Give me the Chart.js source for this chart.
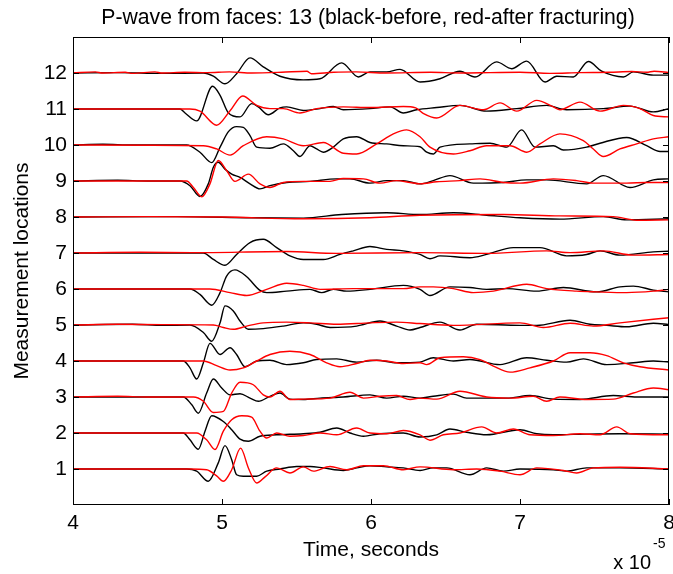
<!DOCTYPE html>
<html>
<head>
<meta charset="utf-8">
<script src="https://cdn.jsdelivr.net/npm/chart.js@4.4.1/dist/chart.umd.min.js"></script>
<style>
  html, body { margin: 0; padding: 0; background: #fff; }
</style>
</head>
<body>
<canvas id="waveChart" width="673" height="574"></canvas>
<script>
// time in units of 1e-5 s, amplitude as offset from the location line
const locations = [1, 2, 3, 4, 5, 6, 7, 8, 9, 10, 11, 12];
const timeTicks = [4, 5, 6, 7, 8];
const chartTitle = 'P-wave from faces: 13 (black-before, red-after fracturing)';

// black - before fracturing
const before1 = [[4,0],[4.763,0],[4.830,-0.06],[4.908,-0.34],[4.975,0.17],[5.020,0.65],[5.065,0.26],[5.098,-0.16],[5.143,-0.20],[5.233,-0.20],[5.300,-0.06],[5.389,0],[5.501,0.07],[5.591,0.07],[5.680,0.03],[5.814,-0.04],[5.904,0.03],[5.993,0.09],[6.105,0.06],[6.217,0.03],[6.329,-0.04],[6.418,0.03],[6.508,0.03],[6.664,-0.16],[6.776,0.03],[6.888,-0.06],[7.0,0],[7.224,-0.02],[7.313,-0.06],[7.447,0.03],[7.671,0.03],[8,0]];
const before2 = [[4,0],[4.740,0],[4.785,-0.19],[4.841,-0.45],[4.886,0.05],[4.931,0.48],[5.009,0.32],[5.065,0.09],[5.121,-0.17],[5.177,-0.23],[5.255,-0.09],[5.367,-0.05],[5.546,-0.02],[5.658,0.02],[5.770,0.14],[5.859,0],[5.949,-0.09],[6.060,-0.02],[6.217,0],[6.329,-0.11],[6.441,-0.05],[6.530,0.11],[6.642,0.02],[6.776,-0.05],[7.0,0.09],[7.112,-0.02],[7.224,-0.05],[7.447,-0.03],[7.671,-0.02],[8,-0.03]];
const before3 = [[4,0],[4.740,0],[4.796,-0.21],[4.841,-0.45],[4.897,0.11],[4.942,0.50],[4.998,0.25],[5.054,0.06],[5.121,0.09],[5.188,-0.03],[5.244,-0.12],[5.322,0.02],[5.389,0.11],[5.456,-0.06],[5.546,-0.07],[5.658,-0.03],[5.814,0],[5.993,0.06],[6.105,-0.03],[6.217,0.02],[6.329,-0.03],[6.418,0.02],[6.553,0.08],[6.642,-0.03],[6.911,-0.03],[7.067,0.04],[7.224,-0.06],[7.403,-0.07],[7.626,0.04],[7.783,0],[8,0]];
const before4 = [[4,0],[4.740,0],[4.785,-0.19],[4.830,-0.50],[4.875,-0.05],[4.919,0.49],[4.987,0.18],[5.054,0.37],[5.098,0.18],[5.154,-0.16],[5.233,0],[5.322,0.02],[5.434,-0.10],[5.546,-0.05],[5.635,0.04],[5.770,0.06],[5.904,-0.03],[6.038,0.02],[6.172,-0.05],[6.329,-0.03],[6.418,0.09],[6.553,0],[6.664,0.04],[6.866,-0.10],[7.045,0.09],[7.179,0.02],[7.313,-0.03],[7.425,0.06],[7.582,-0.10],[7.761,-0.05],[7.895,0],[8,-0.03]];
const before5 = [[4,0],[4.4,0.02],[4.6,-0.01],[4.785,0],[4.875,-0.21],[4.931,-0.45],[4.987,0.06],[5.020,0.53],[5.076,0.39],[5.121,0.11],[5.177,-0.12],[5.277,-0.10],[5.412,-0.03],[5.546,0.06],[5.635,0.02],[5.725,-0.07],[5.904,-0.03],[6.060,0.11],[6.172,-0.03],[6.262,-0.14],[6.329,-0.07],[6.463,0.08],[6.597,-0.14],[6.709,0.02],[7.0,-0.01],[7.112,-0.01],[7.336,0.13],[7.470,0.02],[7.582,-0.01],[7.716,-0.05],[7.895,0.05],[8,0.01]];
const before6 = [[4,0],[4.785,0],[4.852,-0.15],[4.931,-0.45],[4.987,-0.10],[5.031,0.36],[5.087,0.53],[5.166,0.34],[5.255,-0.04],[5.300,-0.10],[5.434,-0.06],[5.591,-0.01],[5.669,-0.10],[5.747,-0.01],[5.837,-0.06],[5.993,-0.01],[6.217,0.10],[6.329,-0.01],[6.396,-0.18],[6.530,0.06],[6.664,0.04],[6.776,-0.01],[6.911,0.01],[7.112,-0.06],[7.291,0.04],[7.515,-0.08],[7.671,0.06],[7.761,0.08],[7.895,-0.03],[8,-0.08]];
const before7 = [[4,0],[4.875,0],[4.942,-0.18],[5.020,-0.34],[5.098,-0.04],[5.188,0.29],[5.277,0.38],[5.367,0.15],[5.456,-0.08],[5.546,-0.18],[5.680,-0.18],[5.792,-0.04],[5.881,0.06],[5.993,0.18],[6.105,0.10],[6.217,0.06],[6.329,-0.04],[6.396,-0.16],[6.463,-0.08],[6.664,-0.13],[6.776,-0.04],[6.955,0.15],[7.134,0.15],[7.313,-0.08],[7.447,-0.04],[7.537,0.06],[7.671,-0.06],[7.895,0.03],[8,0.05]];
const before8 = [[4,0],[4.7,0.01],[5.2,-0.02],[5.546,-0.03],[5.803,0.07],[6.105,0.12],[6.329,0.07],[6.553,0.12],[6.776,0.05],[7.0,-0.02],[7.268,-0.06],[7.559,0.01],[7.716,-0.08],[8,-0.05]];
const before9 = [[4,0],[4.3,0.02],[4.5,0],[4.718,0],[4.785,-0.13],[4.852,-0.43],[4.908,-0.08],[4.942,0.38],[4.975,0.52],[5.020,0.33],[5.065,0.19],[5.121,0.10],[5.188,-0.08],[5.255,-0.22],[5.322,-0.13],[5.434,-0.04],[5.591,-0.01],[5.770,0.06],[5.859,0.06],[5.993,-0.06],[6.105,0.01],[6.217,0.01],[6.329,-0.08],[6.418,0.01],[6.530,0.15],[6.687,-0.06],[6.888,-0.04],[7.045,0.03],[7.179,0.03],[7.447,-0.08],[7.559,0.15],[7.738,-0.18],[7.895,0.03],[8,0.06]];
const before10 = [[4,0],[4.2,0.02],[4.4,0],[4.763,0],[4.852,-0.20],[4.931,-0.49],[4.987,-0.06],[5.043,0.37],[5.098,0.51],[5.143,0.49],[5.188,0.26],[5.233,-0.06],[5.322,-0.09],[5.412,0.03],[5.479,-0.16],[5.523,-0.32],[5.591,-0.02],[5.635,-0.11],[5.680,-0.20],[5.747,-0.06],[5.814,0.17],[5.904,0.23],[5.993,0.07],[6.105,0.03],[6.217,-0.02],[6.329,-0.05],[6.374,-0.20],[6.418,-0.25],[6.463,-0.06],[6.664,0.03],[6.799,0.05],[6.911,-0.06],[7.011,0.42],[7.101,-0.06],[7.224,-0.02],[7.291,-0.14],[7.447,-0.06],[7.537,0.05],[7.716,0.21],[7.850,-0.02],[7.940,-0.18],[8,-0.18]];
const before11 = [[4,0],[4.718,0],[4.752,-0.11],[4.830,-0.33],[4.937,0.63],[4.987,0.38],[5.043,-0.11],[5.121,-0.22],[5.199,0.15],[5.244,0.06],[5.311,-0.16],[5.389,0.03],[5.434,0.06],[5.546,-0.04],[5.658,0.01],[5.747,0.07],[5.814,-0.02],[5.993,0.01],[6.128,0.06],[6.217,-0.11],[6.306,-0.02],[6.441,0.04],[6.597,0.10],[6.776,-0.06],[6.978,0.01],[7.179,0.10],[7.313,-0.02],[7.559,0.01],[7.738,0.08],[7.895,-0.08],[8,0.01]];
const before12 = [[4,0],[4.3,0.01],[4.6,-0.01],[4.875,0],[4.942,-0.09],[5.020,-0.30],[5.098,-0.02],[5.188,0.42],[5.277,0.17],[5.389,-0.09],[5.546,-0.19],[5.658,-0.16],[5.803,0.28],[5.915,-0.11],[5.993,0.03],[6.105,0.03],[6.195,0.10],[6.329,-0.25],[6.463,-0.16],[6.597,0.05],[6.698,-0.11],[6.843,0.31],[6.944,0.12],[7.045,0.33],[7.168,-0.25],[7.246,-0.09],[7.358,-0.11],[7.459,0.32],[7.548,0.05],[7.694,-0.11],[7.761,0.03],[7.895,-0.06],[8,-0.06]];

// red - after fracturing
const after1 = [[4,0],[4.785,0],[4.897,-0.02],[4.964,-0.19],[5.009,-0.34],[5.065,-0.02],[5.125,0.58],[5.177,0.03],[5.233,-0.39],[5.289,-0.22],[5.367,0.03],[5.456,-0.11],[5.546,0.06],[5.613,-0.06],[5.725,0.07],[5.837,-0.02],[5.949,0.09],[6.083,0.09],[6.217,-0.02],[6.329,0.06],[6.553,-0.02],[6.709,0],[6.866,-0.06],[7.0,-0.16],[7.112,0.03],[7.291,-0.04],[7.380,-0.11],[7.492,0.03],[7.671,0.05],[8,0]];
const after2 = [[4,0],[4.830,0],[4.897,-0.19],[4.953,-0.46],[5.009,0.05],[5.065,0.37],[5.132,0.48],[5.199,0.44],[5.255,0.05],[5.300,-0.14],[5.367,0],[5.456,-0.09],[5.546,-0.07],[5.658,0],[5.770,-0.05],[5.904,0.14],[5.993,0],[6.105,-0.02],[6.217,0.07],[6.329,-0.05],[6.396,-0.20],[6.485,-0.05],[6.597,0],[6.743,0.17],[6.843,0],[6.955,0.11],[7.067,-0.05],[7.224,-0.07],[7.403,-0.02],[7.537,-0.05],[7.649,0.17],[7.738,-0.02],[8,-0.05]];
const after3 = [[4,0],[4.3,0.02],[4.5,0],[4.808,0],[4.875,-0.12],[4.942,-0.43],[5.009,-0.40],[5.065,0.11],[5.121,0.41],[5.210,0.34],[5.277,0.06],[5.322,0],[5.389,0.16],[5.456,-0.07],[5.546,-0.06],[5.725,-0.03],[5.859,0.13],[5.949,-0.03],[6.060,0.02],[6.172,0.04],[6.262,-0.07],[6.329,-0.03],[6.441,-0.06],[6.597,0.16],[6.776,0],[6.933,-0.03],[7.089,0.02],[7.179,-0.12],[7.268,0],[7.447,-0.07],[7.626,-0.06],[7.761,0.11],[7.895,0.25],[8,0.20]];
const after4 = [[4,0],[4.875,0],[4.964,-0.13],[5.054,-0.25],[5.143,-0.19],[5.233,0],[5.322,0.18],[5.456,0.27],[5.591,0.18],[5.702,-0.05],[5.792,-0.16],[5.904,-0.07],[5.993,0.02],[6.105,0],[6.217,-0.07],[6.329,-0.05],[6.374,-0.10],[6.463,0.09],[6.620,0.12],[6.732,0.04],[6.821,-0.14],[6.933,-0.31],[7.067,-0.19],[7.224,0],[7.336,0.23],[7.470,0.23],[7.582,0.15],[7.694,-0.05],[7.805,-0.16],[8,-0.25]];
const after5 = [[4,0],[4.3,0.02],[4.6,0.01],[4.942,0],[5.009,-0.07],[5.076,-0.12],[5.166,-0.03],[5.277,0.06],[5.434,0.08],[5.591,0.06],[5.770,0.02],[5.993,0.06],[6.172,0.08],[6.329,0.04],[6.553,-0.01],[7.0,0.06],[7.157,-0.07],[7.336,0.05],[7.492,-0.03],[7.671,0.06],[7.895,0.16],[8,0.20]];
const after6 = [[4,0],[4.919,0],[5.054,-0.10],[5.166,-0.18],[5.300,-0.01],[5.434,0.16],[5.546,0.10],[5.658,-0.01],[5.881,0.01],[6.217,0.01],[6.329,0.06],[6.418,0.06],[6.553,0.01],[6.687,-0.10],[6.821,-0.06],[7.045,0.13],[7.179,0.01],[7.380,-0.06],[7.515,-0.08],[7.716,-0.10],[7.895,-0.06],[8,-0.01]];
const after7 = [[4,0],[4.45,0.02],[4.8,0.01],[5.434,0.04],[5.770,-0.01],[6.329,0.01],[6.776,-0.01],[7.179,0.06],[7.336,0.01],[7.559,0.06],[7.761,-0.06],[8,-0.04]];
const after8 = [[4,0],[4.5,0.01],[5.0,0],[5.546,-0.05],[5.993,-0.02],[6.329,0.05],[6.888,0.07],[7.268,0.03],[7.626,0.01],[7.783,-0.09],[8,-0.08]];
const after9 = [[4,0],[4.763,0],[4.808,-0.18],[4.864,-0.44],[4.919,-0.08],[4.975,0.57],[5.031,0.29],[5.087,-0.01],[5.177,0.19],[5.255,-0.08],[5.322,-0.18],[5.412,-0.04],[5.546,-0.01],[5.725,-0.01],[5.814,0.07],[5.949,0.06],[6.060,-0.06],[6.172,0.01],[6.262,-0.04],[6.329,-0.08],[6.441,-0.02],[6.597,0.01],[6.732,0.06],[6.888,-0.04],[7.0,-0.06],[7.224,0.06],[7.380,0.01],[7.492,-0.06],[7.716,-0.06],[7.850,-0.04],[8,-0.04]];
const after10 = [[4,0],[4.875,-0.02],[4.964,-0.11],[5.054,-0.28],[5.143,-0.02],[5.300,0.23],[5.412,0.17],[5.546,-0.02],[5.680,0.07],[5.814,-0.23],[5.904,-0.25],[6.038,0.03],[6.150,0.31],[6.239,0.42],[6.329,0.23],[6.396,-0.06],[6.553,-0.25],[6.664,-0.16],[6.776,-0.02],[6.933,-0.02],[7.045,-0.20],[7.134,0.03],[7.268,0.31],[7.425,0.12],[7.492,-0.11],[7.559,-0.32],[7.671,-0.11],[7.783,0.03],[7.895,0.17],[8,0.23]];
const after11 = [[4,0],[4.785,0],[4.852,-0.06],[4.964,-0.45],[5.054,-0.05],[5.139,0.36],[5.233,0.10],[5.322,0.01],[5.412,0.01],[5.523,-0.11],[5.635,0.01],[5.814,0.06],[5.993,0.04],[6.217,0.07],[6.30,0.03],[6.35,-0.12],[6.441,-0.25],[6.597,0.10],[6.754,-0.02],[6.866,0.17],[6.978,-0.06],[7.112,0.24],[7.224,0.06],[7.268,-0.02],[7.403,0.19],[7.537,-0.06],[7.694,0.10],[7.805,0.01],[7.895,-0.18],[8,-0.22]];
const after12 = [[4,0],[4.15,0.03],[4.2,0],[4.35,0.02],[4.4,-0.01],[4.55,0.03],[4.6,0],[4.75,0.02],[4.9,0.01],[5.05,0.03],[5.2,0],[5.4,0.02],[5.57,0.05],[5.6,-0.02],[5.75,0.02],[5.9,0.03],[6.1,0],[6.4,0.02],[6.6,0],[6.8,0.01],[7.0,0.02],[7.2,-0.01],[7.4,0.01],[7.6,0.02],[7.75,0.04],[7.85,0.02],[7.9,0.05],[8,0.01]];

const beforeTraces = [before1, before2, before3, before4, before5, before6, before7, before8, before9, before10, before11, before12];
const afterTraces = [after1, after2, after3, after4, after5, after6, after7, after8, after9, after10, after11, after12];

const FONT = '"Liberation Sans", Arial, sans-serif';
Chart.defaults.font.family = FONT;
Chart.defaults.font.size = 21;
Chart.defaults.color = '#000';

function toPoints(trace, loc) {
    return trace.map(p => ({ x: p[0], y: loc + p[1] }));
}

const datasets = [];
locations.forEach((loc, i) => {
    datasets.push({
        label: 'after ' + loc,
        data: toPoints(afterTraces[i], loc),
        borderColor: '#ff0000',
        order: 0
    });
    datasets.push({
        label: 'before ' + loc,
        data: toPoints(beforeTraces[i], loc),
        borderColor: '#000000',
        order: 1
    });
});

// title over the axes, box, inward ticks and the x10^-5 multiplier
const frame = {
    id: 'frame',
    afterDraw(chart) {
        const { ctx, chartArea: a, scales: { x, y } } = chart;
        ctx.save();
        ctx.fillStyle = '#000';
        ctx.textAlign = 'center';
        ctx.textBaseline = 'alphabetic';
        ctx.font = '21.2px ' + FONT;
        ctx.fillText(chartTitle, (a.left + a.right) / 2 - 3, 24);

        ctx.strokeStyle = '#000';
        ctx.lineWidth = 1;
        ctx.strokeRect(a.left + 0.5, a.top + 0.5, a.width - 1, a.height - 1);
        ctx.beginPath();
        timeTicks.forEach(t => {
            const px = Math.round(x.getPixelForValue(t)) + 0.5;
            ctx.moveTo(px, a.bottom); ctx.lineTo(px, a.bottom - 6);
            ctx.moveTo(px, a.top); ctx.lineTo(px, a.top + 6);
        });
        locations.forEach(l => {
            const py = Math.round(y.getPixelForValue(l)) + 0.5;
            ctx.moveTo(a.left, py); ctx.lineTo(a.left + 6, py);
            ctx.moveTo(a.right, py); ctx.lineTo(a.right - 6, py);
        });
        ctx.stroke();

        ctx.textAlign = 'right';
        ctx.font = '20px ' + FONT;
        ctx.fillText('x 10', 651, 569);
        ctx.textAlign = 'left';
        ctx.font = '14px ' + FONT;
        ctx.fillText('-5', 653, 548);
        ctx.restore();
    }
};

new Chart(document.getElementById('waveChart'), {
    type: 'line',
    data: { datasets: datasets },
    options: {
        responsive: false,
        animation: false,
        devicePixelRatio: 1,
        elements: {
            line: { borderWidth: 1.4, cubicInterpolationMode: 'monotone', fill: false },
            point: { radius: 0 }
        },
        layout: { padding: { left: 0, right: 4, top: 37, bottom: 0 } },
        plugins: {
            legend: { display: false },
            tooltip: { enabled: false },
            title: { display: false }
        },
        scales: {
            x: {
                type: 'linear',
                min: 4,
                max: 8,
                grid: { display: false, drawTicks: false },
                border: { display: false },
                ticks: { stepSize: 1, padding: 6, maxRotation: 0 },
                afterBuildTicks: s => { s.ticks = timeTicks.map(v => ({ value: v })); },
                afterFit: s => { s.height = 69; s.paddingLeft = 0; s.paddingRight = 0; },
                title: { display: true, text: 'Time, seconds', padding: { top: 0, bottom: 11 } }
            },
            y: {
                type: 'linear',
                min: 0,
                max: 13,
                grid: { display: false, drawTicks: false },
                border: { display: false },
                ticks: { padding: 6 },
                afterBuildTicks: s => { s.ticks = locations.map(v => ({ value: v })); },
                afterFit: s => { s.width = 73; s.paddingTop = 0; s.paddingBottom = 0; },
                title: { display: true, text: 'Measurement locations', padding: { top: 10, bottom: 0 } }
            }
        }
    },
    plugins: [frame]
});
</script>
</body>
</html>
